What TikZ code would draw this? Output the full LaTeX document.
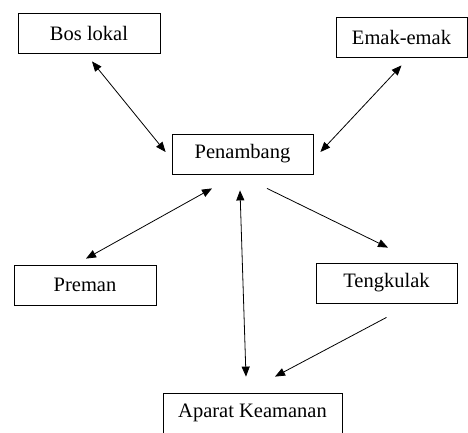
\documentclass[tikz,border=0pt]{standalone}
\usepackage{fontspec}
\setmainfont{Liberation Serif}
\usetikzlibrary{arrows.meta}
\tikzset{
    actor/.style={draw, line width=0.8pt, minimum width=142pt, minimum height=40pt,
        inner sep=0pt, font=\fontsize{20.5}{23}\selectfont},
    link/.style={line width=0.8pt, -{Triangle[length=10pt,width=8pt]}},
    both/.style={link, {Triangle[length=10pt,width=8pt]}-{Triangle[length=10pt,width=8pt]}}
}

\begin{document}
\begin{tikzpicture}[x=1pt, y=-1pt]
    \useasboundingbox (0,0) rectangle (468,432);
    % pelaku
    \node[actor] (bos) at (89,33) {Bos lokal};
    \node[actor, minimum width=131pt] (emak) at (401.5,37) {Emak-emak};
    \node[actor, minimum width=141pt] (pen) at (242.5,154) {Penambang};
    \node[actor] (preman) at (85,285) {Preman};
    \node[actor, minimum width=141pt] (teng) at (386.5,283) {Tengkulak};
    \node[actor, minimum width=179pt] (aparat) at (252.5,413) {Aparat Keamanan};
    % hubungan
    \draw[both] ([shift={(3,8)}]bos.south) -- ([shift={(-6,-2)}]pen.west);
    \draw[both] ([shift={(0,8)}]emak.south) -- ([shift={(7,-2)}]pen.east);
    \draw[both] ([shift={(-30.5,14)}]pen.south) -- ([shift={(1,-6)}]preman.north);
    \draw[both] ([shift={(-2.5,16)}]pen.south) -- ([shift={(-6.5,-16)}]aparat.north);
    \draw[link] ([shift={(24.5,14)}]pen.south) -- ([shift={(1.5,-15)}]teng.north);
    \draw[link] ([shift={(0,14)}]teng.south) -- ([shift={(22.5,-16)}]aparat.north);
\end{tikzpicture}
\end{document}
